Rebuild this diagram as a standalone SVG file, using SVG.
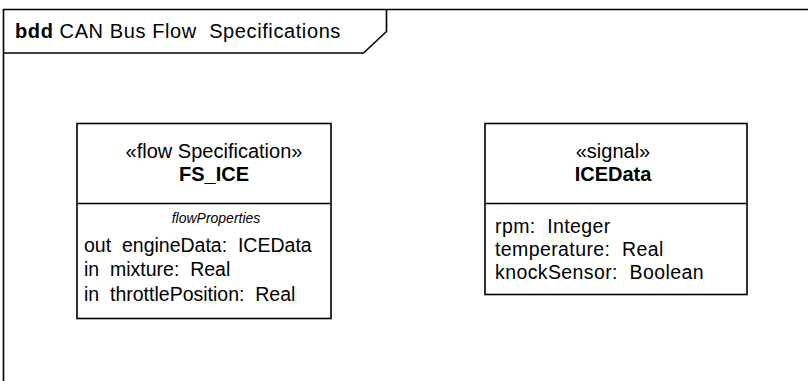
<svg xmlns="http://www.w3.org/2000/svg" width="808" height="381" viewBox="0 0 808 381" xml:space="preserve">
<style>
text{font-family:"Liberation Sans",Arial,sans-serif;fill:#000;white-space:pre}
.box{fill:#fff;stroke:#000;stroke-width:1.6}
.ln{fill:none;stroke:#000;stroke-width:1.6}
.st{font-size:20px;text-anchor:middle}
.nm{font-size:20px;font-weight:bold;text-anchor:middle}
.at{font-size:19.5px}
.sg{font-size:19.5px;letter-spacing:0.4px}
.cp{font-size:14px;font-style:italic;text-anchor:middle}
</style>
<rect width="808" height="381" fill="#fff"/>
<g id="frame">
<path class="ln" d="M3.5,381 V9.5 H808"/>
<path class="ln" d="M3.5,53 H363.5 L386.5,31.5 V9.5"/>
<text x="15" y="38" font-size="20" letter-spacing="0.6"><tspan font-weight="bold">bdd</tspan> CAN Bus Flow  Specifications</text>
</g>
<g id="connectors"></g>
<g id="FS_ICE">
<rect class="box" x="77" y="123.5" width="254" height="195"/>
<line class="ln" x1="77" y1="203.5" x2="331" y2="203.5"/>
<text class="st" x="214" y="158">«flow Specification»</text>
<text class="nm" x="214" y="181">FS_ICE</text>
<text class="cp" x="216" y="223">flowProperties</text>
<text class="at" x="84" y="252">out  engineData:  ICEData</text>
<text class="at" x="84" y="276">in  mixture:  Real</text>
<text class="at" x="84" y="301">in  throttlePosition:  Real</text>
</g>
<g id="ICEData">
<rect class="box" x="485" y="123.5" width="262" height="171"/>
<line class="ln" x1="485" y1="203.5" x2="747" y2="203.5"/>
<text class="st" x="613" y="158">«signal»</text>
<text class="nm" x="613" y="181">ICEData</text>
<text class="sg" x="495" y="233">rpm:  Integer</text>
<text class="sg" x="495" y="256">temperature:  Real</text>
<text class="sg" x="495" y="279">knockSensor:  Boolean</text>
</g>
</svg>
